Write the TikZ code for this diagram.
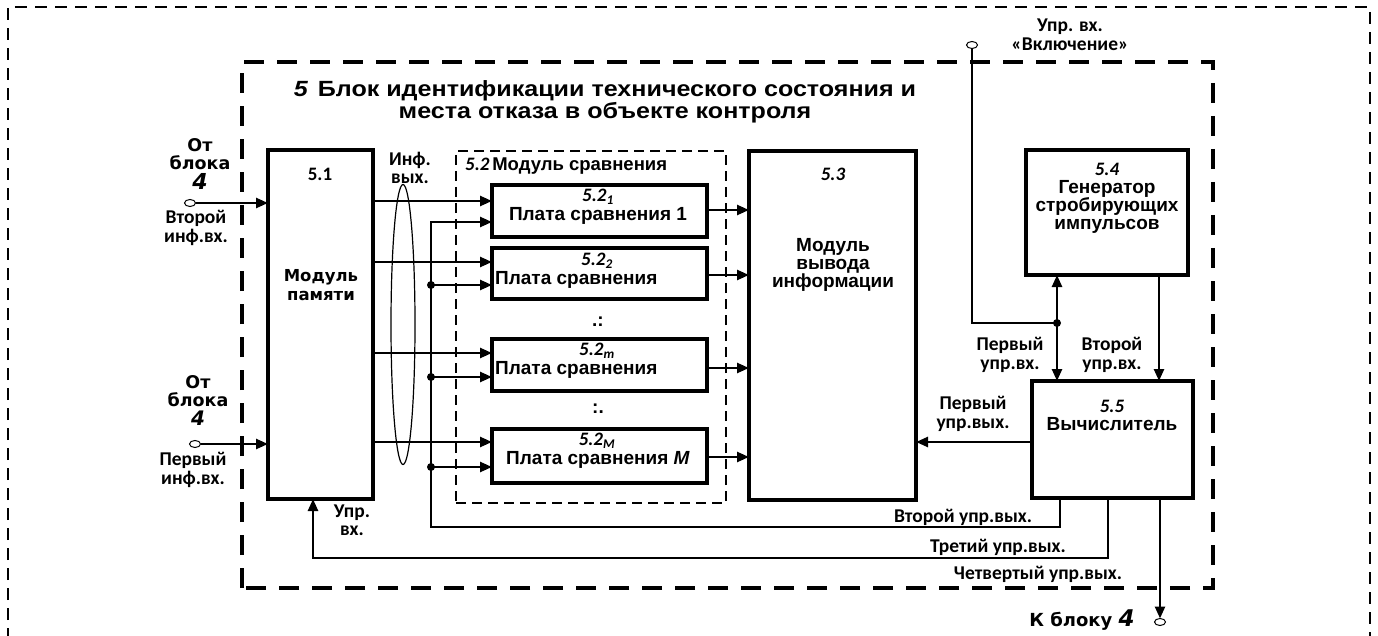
\documentclass[tikz,border=0pt]{standalone}
\usepackage{fontspec}
\setmainfont{Liberation Sans}
\newfontfamily\carl{Carlito}
\newfontfamily\dv{DejaVu Sans}
\newfontfamily\titlefont[FakeStretch=1.14]{Liberation Sans}
\usetikzlibrary{arrows.meta,shapes.geometric}
\begin{document}
\begin{tikzpicture}[x=1pt,y=-1pt,
  blk/.style={draw,line width=4pt,rectangle,inner sep=0pt,outer sep=0pt},
  conn/.style={line width=2.5pt},
  arr/.style={conn,-{Triangle[length=12pt,width=10pt]}},
  term/.style={draw,ellipse,line width=1pt,minimum width=11pt,minimum height=7pt,inner sep=0pt,outer sep=0pt,fill=white},
  jdot/.style={circle,fill,inner sep=0pt,minimum size=8pt},
  bt/.style={font=\fontsize{19}{18}\selectfont\bfseries,align=center,inner sep=0pt},
  lt/.style={font=\carl\fontsize{19.5}{18.5}\selectfont\bfseries,align=center,inner sep=0pt},
  dt/.style={font=\dv\fontsize{17.5}{18}\selectfont\bfseries,align=center,inner sep=0pt},
  nt/.style={font=\carl\fontsize{19}{18}\selectfont\bfseries\itshape,inner sep=0pt},
  big4/.style={font=\dv\fontsize{22}{18}\selectfont\bfseries\itshape,inner sep=0pt},
 ]
\useasboundingbox (0,0) rectangle (1378,636);
\fill[white] (0,0) rectangle (1378,636);
% frames
\draw[line width=2pt,dash pattern=on 12pt off 8pt] (8,640) -- (8,7) -- (1370,7) -- (1370,640);
\draw[line width=4.5pt,dash pattern=on 20pt off 13pt] (242,588) -- (242,62) -- (1213,62) -- (1213,588) -- cycle;
% title
\node[font=\titlefont\fontsize{22}{19}\selectfont\bfseries,align=center,inner sep=0pt] (title) at (605,102)
  {{\itshape 5}\hspace{10pt}Блок идентификации технического состояния и\\места отказа в объекте контроля};
% blocks
\node[blk,minimum width=105pt,minimum height=349pt] (b51) at (320.5,324.5) {};
\node[draw,line width=2pt,dash pattern=on 10pt off 6pt,minimum width=270pt,minimum height=352pt,inner sep=0pt] (m52) at (591,327) {};
\node[blk,minimum width=215pt,minimum height=52pt] (p1) at (599.5,211) {};
\node[blk,minimum width=215pt,minimum height=51pt] (p2) at (599.5,273.5) {};
\node[blk,minimum width=215pt,minimum height=52pt] (pm) at (599.5,365) {};
\node[blk,minimum width=215pt,minimum height=54pt] (pM) at (599.5,456) {};
\node[blk,minimum width=167pt,minimum height=349pt] (b53) at (832.5,325.5) {};
\node[blk,minimum width=162pt,minimum height=125pt] (b54) at (1107,212.5) {};
\node[blk,minimum width=161pt,minimum height=117pt] (b55) at (1112.5,439.5) {};
% block texts
\node[lt,font=\carl\fontsize{19}{18}\selectfont\bfseries] (t51) at (320,174) {5.1};
\node[dt,font=\dv\fontsize{16.5}{18.5}\selectfont\bfseries] (t51b) at (321,285) {Модуль\\памяти};
\node[inner sep=0pt,anchor=west] (t52) at (465,166) {{\carl\fontsize{19}{18}\selectfont\bfseries\itshape 5.2} {\fontsize{18.5}{18}\selectfont\bfseries Модуль сравнения}};
\node[nt] (tp1n) at (598,197) {5.2\textsubscript{1}};
\node[bt] (tp1) at (598,216) {Плата сравнения 1};
\node[nt] (tp2n) at (597,261) {5.2\textsubscript{2}};
\node[bt,anchor=west] (tp2) at (495,280) {Плата сравнения};
\node[nt] (tpmn) at (597,351) {5.2\textsubscript{\textit{m}}};
\node[bt,anchor=west] (tpm) at (495,370) {Плата сравнения};
\node[nt] (tpMn) at (597,441) {5.2\textsubscript{\textit{M}}};
\node[bt] (tpM) at (598,460) {Плата сравнения \textit{M}};
\node[bt] (dots1) at (598,322) {.:};
\node[bt] (dots2) at (598,409) {:.};
\node[nt] (t53) at (833,174) {5.3};
\node[bt] (t53b) at (833,265) {Модуль\\вывода\\информации};
\node[bt] (t54) at (1107,198) {{\carl\itshape 5.4}\\Генератор\\стробирующих\\импульсов};
\node[bt] (t55) at (1112,415) {{\carl\itshape 5.5}\\Вычислитель};
% labels
\node[dt] (ot1) at (200,154) {От\\блока};
\node[big4] (ot1n) at (200,181) {4};
\node[lt] (in2) at (196,228) {Второй\\инф.вх.};
\node[dt] (ot2) at (198,391) {От\\блока};
\node[big4,font=\dv\fontsize{20}{18}\selectfont\bfseries\itshape] (ot2n) at (198,418) {4};
\node[lt] (in1) at (193,470) {Первый\\инф.вх.};
\node[lt] (infv) at (410,168) {Инф.\\вых.};
\node[lt] (uprvx) at (352,520) {Упр.\\вх.};
\node[lt] (vkl) at (1070,35) {Упр. вх.\\«Включение»};
\node[lt] (pv1) at (1010,355) {Первый\\упр.вх.};
\node[lt] (pv2) at (1112,355) {Второй\\упр.вх.};
\node[lt] (pvy1) at (973,414) {Первый\\упр.вых.};
\node[lt] (pvy2) at (963,517) {Второй упр.вых.};
\node[lt] (pvy3) at (998,547) {Третий упр.вых.};
\node[lt] (pvy4) at (1038,574) {Четвертый упр.вых.};
\node[dt,font=\dv\fontsize{18}{18}\selectfont\bfseries] (kb4) at (1082,620) {К блоку {\itshape\fontsize{23}{18}\selectfont 4}};
% terminals
\node[term] (c2) at (190,203) {};
\node[term] (c1) at (195,444) {};
\node[term] (cv) at (972,45) {};
\node[term] (c4) at (1160,622) {};
% inputs to 5.1
\draw[arr] (c2) -- (b51.west |- c2);
\draw[arr] (c1) -- (b51.west |- c1);
% 5.1 outputs
\coordinate (p1a) at (492,201);
\coordinate (p2a) at (492,262);
\coordinate (pma) at (492,353);
\coordinate (pMa) at (492,442);
\draw[arr] (b51.east |- p1a) -- (p1a);
\draw[arr] (b51.east |- p2a) -- (p2a);
\draw[arr] (b51.east |- pma) -- (pma);
\draw[arr] (b51.east |- pMa) -- (pMa);
% ellipse
\draw[line width=1.2pt] (403,324.5) ellipse [x radius=12pt, y radius=140pt];
% second inputs from 5.5
\coordinate (o2) at (1060,498);
\coordinate (p1b) at (492,222);
\coordinate (p2b) at (492,285);
\coordinate (pmb) at (492,377);
\coordinate (pMb) at (492,467);
\coordinate (j2) at (431,285);
\coordinate (jm) at (431,377);
\coordinate (jM) at (431,467);
\draw[arr] (o2) |- (431,527) -- (431,222) -- (p1b);
\draw[arr] (j2) -- (p2b);
\draw[arr] (jm) -- (pmb);
\draw[arr] (jM) -- (pMb);
\node[jdot] (d2) at (j2) {};
\node[jdot] (dm) at (jm) {};
\node[jdot] (dM) at (jM) {};
% plate outputs
\draw[arr] (p1.east |- 0,210) -- (b53.west |- 0,210);
\draw[arr] (p2.east |- 0,275) -- (b53.west |- 0,275);
\draw[arr] (pm.east |- 0,368) -- (b53.west |- 0,368);
\draw[arr] (pM.east |- 0,457) -- (b53.west |- 0,457);
% enable input
\coordinate (jv) at (1057,323);
\draw[conn] (cv) |- (jv);
\draw[arr] (jv) -- (b54.south -| jv);
\draw[arr] (jv) -- (b55.north -| jv);
\node[jdot] (dv) at (jv) {};
% 5.4 -> 5.5
\draw[arr] (b54.south -| 1159,0) -- (b55.north -| 1159,0);
% 5.5 first output
\draw[arr] (b55.west |- 0,442) -- (b53.east |- 0,442);
% third output
\draw[arr] (b55.south -| 1108,0) |- (313,558) -- (b51.south -| 313,0);
% fourth output
\draw[arr] (b55.south -| 1160,0) -- (c4);
\end{tikzpicture}
\end{document}
